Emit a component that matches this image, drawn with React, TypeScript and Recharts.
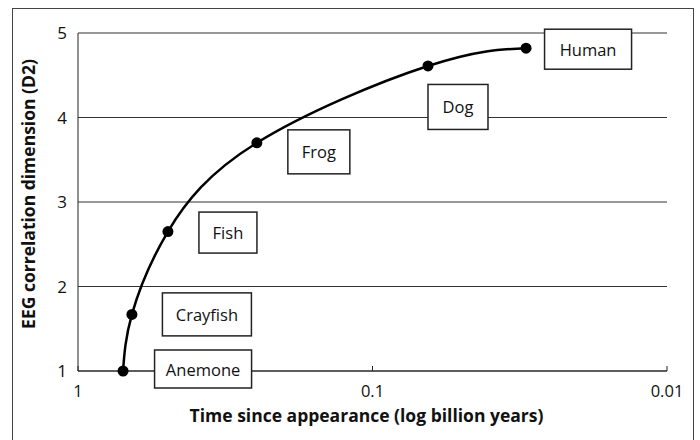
import React from "react";
import { LineChart, Line, XAxis, YAxis, CartesianGrid, LabelList } from "recharts";

const species = ["Anemone", "Crayfish", "Fish", "Frog", "Dog", "Human"];
const timeSinceAppearance = [0.703, 0.656, 0.495, 0.247, 0.0648, 0.0301];
const correlationDimension = [1.0, 1.67, 2.65, 3.7, 4.61, 4.82];
const xTicks = [1, 0.1, 0.01];
const yTicks = [1, 2, 3, 4, 5];

const data = species.map((name, i) => ({
  name,
  t: timeSinceAppearance[i],
  d2: correlationDimension[i],
}));

// label box placement (style only), relative to each point
const boxStyle: Record<string, { dx: number; dy: number; w: number; h: number }> = {
  Anemone: { dx: 80, dy: -2, w: 97, h: 38 },
  Crayfish: { dx: 75, dy: 0, w: 89, h: 43 },
  Fish: { dx: 60, dy: 1, w: 58, h: 41 },
  Frog: { dx: 62, dy: 9, w: 62, h: 44 },
  Dog: { dx: 30, dy: 41, w: 60, h: 45 },
  Human: { dx: 62, dy: 1, w: 87, h: 40 },
};

const FONT = "'Open Sans', sans-serif";

const BoxLabel = (props: any) => {
  const { x, y, value } = props;
  const s = boxStyle[value];
  if (!s) return null;
  const cx = x + s.dx;
  const cy = y + s.dy;
  return (
    <g>
      <rect
        x={cx - s.w / 2}
        y={cy - s.h / 2}
        width={s.w}
        height={s.h}
        fill="#fff"
        stroke="#222"
        strokeWidth={1.5}
      />
      <text
        x={cx}
        y={cy}
        textAnchor="middle"
        dominantBaseline="central"
        fontFamily={FONT}
        fontSize={16.5}
        fill="#111"
      >
        {value}
      </text>
    </g>
  );
};

const XTitle = (props: any) => {
  const vb = props.viewBox || {};
  const cx = vb.x + vb.width / 2 - 6;
  return (
    <text x={cx} y={422} textAnchor="middle" fontFamily={FONT} fontSize={17.5} fontWeight={700} fill="#111">
      Time since appearance (log billion years)
    </text>
  );
};

const YTitle = (props: any) => {
  const vb = props.viewBox || {};
  const cy = vb.y + vb.height / 2 - 8;
  const cx = 28;
  return (
    <text
      x={cx}
      y={cy}
      textAnchor="middle"
      dominantBaseline="central"
      transform={`rotate(-90 ${cx} ${cy})`}
      fontFamily={FONT}
      fontSize={17.5}
      fontWeight={700}
      fill="#111"
    >
      EEG correlation dimension (D2)
    </text>
  );
};

export default function App() {
  return (
    <div style={{ position: "fixed", left: 0, top: 0, width: 700, height: 440, background: "#fff", overflow: "hidden" }}>
      <div
        style={{
          position: "absolute",
          left: 12,
          top: 8,
          width: 682,
          height: 460,
          border: "1.5px solid #444",
          boxSizing: "border-box",
        }}
      />
      <div style={{ position: "absolute", left: 0, top: 0 }}>
        <LineChart width={700} height={440} data={data} margin={{ top: 33, right: 33, bottom: 0, left: 0 }}>
          <CartesianGrid horizontal vertical={false} stroke="#333" strokeWidth={1.2} />
          <XAxis
            dataKey="t"
            type="number"
            scale="log"
            domain={[0.01, 1]}
            reversed
            ticks={xTicks}
            tickFormatter={(v: number) => String(v)}
            allowDataOverflow
            height={69}
            tickSize={-5}
            tickMargin={19}
            stroke="#222"
            tick={{ fill: "#111", fontSize: 16.5, fontFamily: FONT }}
            label={<XTitle />}
          />
          <YAxis
            dataKey="d2"
            type="number"
            domain={[1, 5]}
            ticks={yTicks}
            width={78}
            tickLine={false}
            tickMargin={5}
            stroke="#222"
            tick={{ fill: "#111", fontSize: 17, fontFamily: FONT }}
            label={<YTitle />}
          />
          <Line
            dataKey="d2"
            type="natural"
            stroke="#000"
            strokeWidth={2.5}
            dot={{ r: 5.5, fill: "#000", stroke: "#000", strokeWidth: 0 }}
            isAnimationActive={false}
          >
            <LabelList dataKey="name" content={<BoxLabel />} />
          </Line>
        </LineChart>
      </div>
    </div>
  );
}
